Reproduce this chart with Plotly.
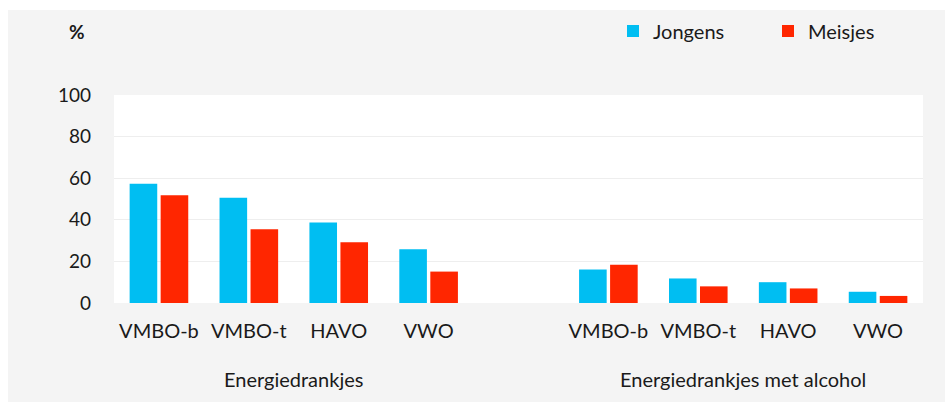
import plotly.graph_objects as go

# Survey data: share of pupils (%) per school type
groups = ["Energiedrankjes", "Energiedrankjes met alcohol"]
school_types = ["VMBO-b", "VMBO-t", "HAVO", "VWO"]
jongens_energie = [57.3, 50.6, 38.7, 25.8]
meisjes_energie = [51.8, 35.5, 29.2, 15.1]
jongens_alcohol = [16.1, 11.8, 10.0, 5.4]
meisjes_alcohol = [18.4, 8.0, 7.0, 3.4]
y_ticks = [0, 20, 40, 60, 80, 100]

COLOR_J = "#00bef2"
COLOR_M = "#ff2600"
TEXT = "#1a1a1a"
FONT = "Lato"

# One flat category axis: group 1, an empty spacer slot, group 2
spacer = " "
keys = [f"{groups[0]}|{c}" for c in school_types] + [spacer] + \
       [f"{groups[1]}|{c}" for c in school_types]
labels = school_types + [""] + school_types
vals_j = jongens_energie + [None] + jongens_alcohol
vals_m = meisjes_energie + [None] + meisjes_alcohol

fig = go.Figure()
fig.add_trace(go.Bar(name="Jongens", x=keys, y=vals_j,
                     marker=dict(color=COLOR_J, line=dict(width=0))))
fig.add_trace(go.Bar(name="Meisjes", x=keys, y=vals_m,
                     marker=dict(color=COLOR_M, line=dict(width=0))))

W, H = 945, 402
ml, mr, mt, mb = 114, 22, 95, 99
pw, ph = W - ml - mr, H - mt - mb

def px_x(p):
    return (p - ml) / pw

def px_y(p):
    return (mt + ph - p) / ph

# Group captions centred under their four categories
n = len(school_types)
group_centres = [(n - 1) / 2, n + 1 + (n - 1) / 2]
annotations = [dict(
    text=g, xref="x", yref="paper", x=xc, y=px_y(379),
    xanchor="center", yanchor="middle", showarrow=False,
    font=dict(family=FONT, size=20, color=TEXT),
) for g, xc in zip(groups, group_centres)]
annotations.append(dict(
    text="<b>%</b>", xref="paper", yref="paper",
    x=px_x(77), y=px_y(31),
    xanchor="center", yanchor="middle", showarrow=False,
    font=dict(family=FONT, size=19, color=TEXT),
))

fig.update_layout(
    width=W, height=H,
    margin=dict(l=ml, r=mr, t=mt, b=mb, pad=0, autoexpand=False),
    paper_bgcolor="#f4f4f4",
    plot_bgcolor="white",
    barmode="group",
    bargap=0.31,
    bargroupgap=0.11,
    font=dict(family=FONT, size=20, color=TEXT),
    showlegend=True,
    legend=dict(
        orientation="h",
        x=px_x(613), xanchor="left",
        y=px_y(31), yanchor="middle",
        bgcolor="rgba(0,0,0,0)",
        font=dict(family=FONT, size=20, color=TEXT),
        entrywidth=110, entrywidthmode="pixels",
        itemclick=False,
    ),
    xaxis=dict(
        type="category",
        tickvals=keys,
        ticktext=labels,
        showgrid=False,
        showline=False,
        zeroline=False,
        ticks="",
        ticklabelstandoff=14,
        tickfont=dict(family=FONT, size=20, color=TEXT),
    ),
    yaxis=dict(
        range=[0, 100],
        tickvals=y_ticks,
        showgrid=True,
        gridcolor="#eeeeee",
        gridwidth=1,
        zeroline=False,
        showline=False,
        ticks="",
        ticklabelstandoff=22,
        tickfont=dict(family=FONT, size=19, color=TEXT),
    ),
    # white strips along the top and left edges of the page
    shapes=[
        dict(type="rect", xref="paper", yref="paper", layer="below",
             x0=px_x(0), x1=px_x(W), y0=px_y(10), y1=px_y(0),
             fillcolor="white", line=dict(width=0)),
        dict(type="rect", xref="paper", yref="paper", layer="below",
             x0=px_x(0), x1=px_x(8), y0=px_y(H), y1=px_y(0),
             fillcolor="white", line=dict(width=0)),
    ],
    annotations=annotations,
)

fig.write_html("out.html")
